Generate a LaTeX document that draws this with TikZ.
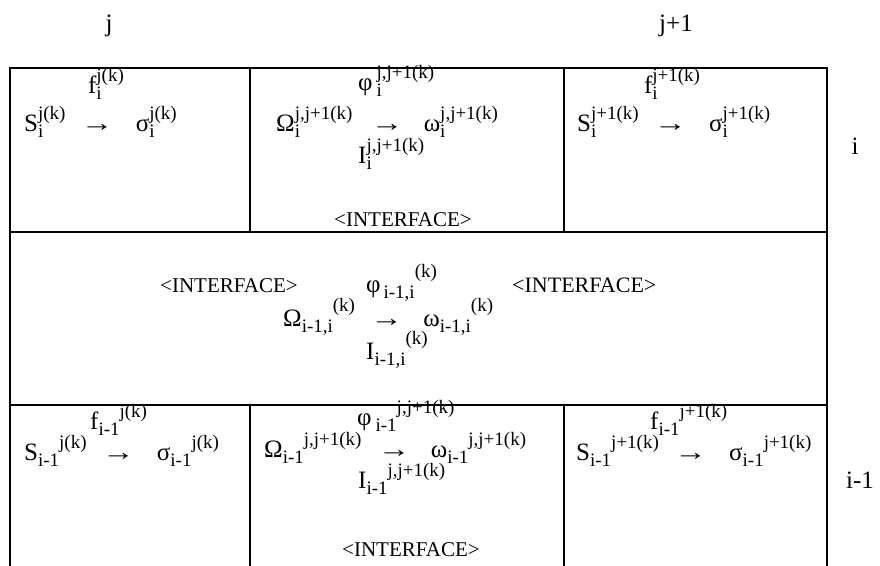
\documentclass[tikz,border=0pt]{standalone}
\usepackage{fontspec}
\setmainfont{Liberation Serif}
\newcommand{\supsz}{\fontsize{19}{19}\selectfont}
\newcommand{\stk}[2]{\makebox[0pt][l]{\raisebox{-0.26em}{\supsz #1}}\raisebox{0.45em}{\supsz #2}}
\newcommand{\sbx}[1]{\raisebox{-0.26em}{\supsz #1}}
\newcommand{\spx}[1]{\raisebox{0.45em}{\supsz #1}}
\newcommand{\spk}[1]{\raisebox{0.6em}{\supsz #1}}
\newcommand{\arrow}{\scalebox{1.3}[1]{→}}
\tikzset{
  txt/.style={inner sep=0pt, font=\fontsize{25}{25}\selectfont},
  itf/.style={inner sep=0pt, font=\fontsize{21}{21}\selectfont},
  frame/.style={line width=2.6pt}
}
\begin{document}
\begin{tikzpicture}[x=1pt,y=-1pt]
\useasboundingbox (0,0) rectangle (880,565);
% frame
\coordinate (tl) at (10,68);
\coordinate (tr) at (827,68);
\coordinate (bl) at (10,570);
\coordinate (br) at (827,570);
\draw[frame] (bl) -- (tl) -- (tr) -- (br);
\draw[frame] (10,232) -- (827,232);
\draw[frame] (10,405) -- (827,405);
\draw[frame] (250,68) -- (250,232);
\draw[frame] (564,68) -- (564,232);
\draw[frame] (250,405) -- (250,570);
\draw[frame] (564,405) -- (564,570);
% headers
\node[txt,anchor=base] (hj) at (109,31) {j};
\node[txt,anchor=base] (hj1) at (676,31) {j+1};
\node[txt,anchor=base] (hi) at (855,154) {i};
\node[txt,anchor=base] (hi1) at (860,488) {i-1};
% top row, left
\node[txt,anchor=base] (f1) at (106,93) {f\stk{i}{j(k)}};
\node[txt,anchor=base west] (s1) at (24,131) {S\stk{i}{j(k)}};
\node[txt,anchor=base west] (a1) at ([xshift=15pt]s1.base east) {\arrow};
\node[txt,anchor=base west] (g1) at ([xshift=22pt]a1.base east) {σ\stk{i}{j(k)}};
% top row, middle
\node[txt,anchor=base west] (p1) at (358,90) {φ\hspace{4pt}\stk{i}{j,j+1(k)}};
\node[txt,anchor=base west] (o1) at (276,131) {Ω\stk{i}{j,j+1(k)}};
\node[txt,anchor=base west] (a2) at ([xshift=18pt]o1.base east) {\arrow};
\node[txt,anchor=base west] (w1) at ([xshift=20pt]a2.base east) {ω\stk{i}{j,j+1(k)}};
\node[txt,anchor=base west] (i1) at (358,163) {I\stk{i}{j,j+1(k)}};
\node[itf,anchor=base] (n1) at (403,226) {<INTERFACE>};
% top row, right
\node[txt,anchor=base] (f2) at (672,93) {f\stk{i}{j+1(k)}};
\node[txt,anchor=base west] (s2) at (577,131) {S\stk{i}{j+1(k)}};
\node[txt,anchor=base west] (a3) at ([xshift=15pt]s2.base east) {\arrow};
\node[txt,anchor=base west] (g2) at ([xshift=22pt]a3.base east) {σ\stk{i}{j+1(k)}};
% middle row
\node[itf,anchor=base west] (n2) at (160,292) {<INTERFACE>};
\node[txt,anchor=base west] (p2) at (366,292) {φ\hspace{3pt}\sbx{i-1,i}\spk{(k)}};
\node[itf,anchor=base west,font=\fontsize{22}{22}\selectfont] (n3) at (512,292) {<INTERFACE>};
\node[txt,anchor=base west] (o2) at (283,326) {Ω\sbx{i-1,i}\spk{(k)}};
\node[txt,anchor=base west] (a4) at ([xshift=15pt]o2.base east) {\arrow};
\node[txt,anchor=base west] (w2) at ([xshift=20pt]a4.base east) {ω\sbx{i-1,i}\spk{(k)}};
\node[txt,anchor=base west] (i2) at (366,359) {I\sbx{i-1,i}\spk{(k)}};
% bottom row, left
\node[txt,anchor=base west] (f3) at (90,429) {f\sbx{i-1}\spx{j(k)}};
\node[txt,anchor=base west] (s3) at (24,460) {S\sbx{i-1}\spx{j(k)}};
\node[txt,anchor=base west] (a5) at ([xshift=15pt]s3.base east) {\arrow};
\node[txt,anchor=base west] (g3) at ([xshift=22pt]a5.base east) {σ\sbx{i-1}\spx{j(k)}};
% bottom row, middle
\node[txt,anchor=base west] (p3) at (357,425) {φ\hspace{4pt}\sbx{i-1}\spx{j,j+1(k)}};
\node[txt,anchor=base west] (o3) at (264,457) {Ω\sbx{i-1}\spx{j,j+1(k)}};
\node[txt,anchor=base west] (a6) at ([xshift=16pt]o3.base east) {\arrow};
\node[txt,anchor=base west] (w3) at ([xshift=20pt]a6.base east) {ω\sbx{i-1}\spx{j,j+1(k)}};
\node[txt,anchor=base west] (i3) at (358,488) {I\sbx{i-1}\spx{j,j+1(k)}};
\node[itf,anchor=base] (n4) at (411,556) {<INTERFACE>};
% bottom row, right
\node[txt,anchor=base west] (f4) at (650,429) {f\sbx{i-1}\spx{j+1(k)}};
\node[txt,anchor=base west] (s4) at (576,460) {S\sbx{i-1}\spx{j+1(k)}};
\node[txt,anchor=base west] (a7) at ([xshift=15pt]s4.base east) {\arrow};
\node[txt,anchor=base west] (g4) at ([xshift=22pt]a7.base east) {σ\sbx{i-1}\spx{j+1(k)}};
\end{tikzpicture}
\end{document}
